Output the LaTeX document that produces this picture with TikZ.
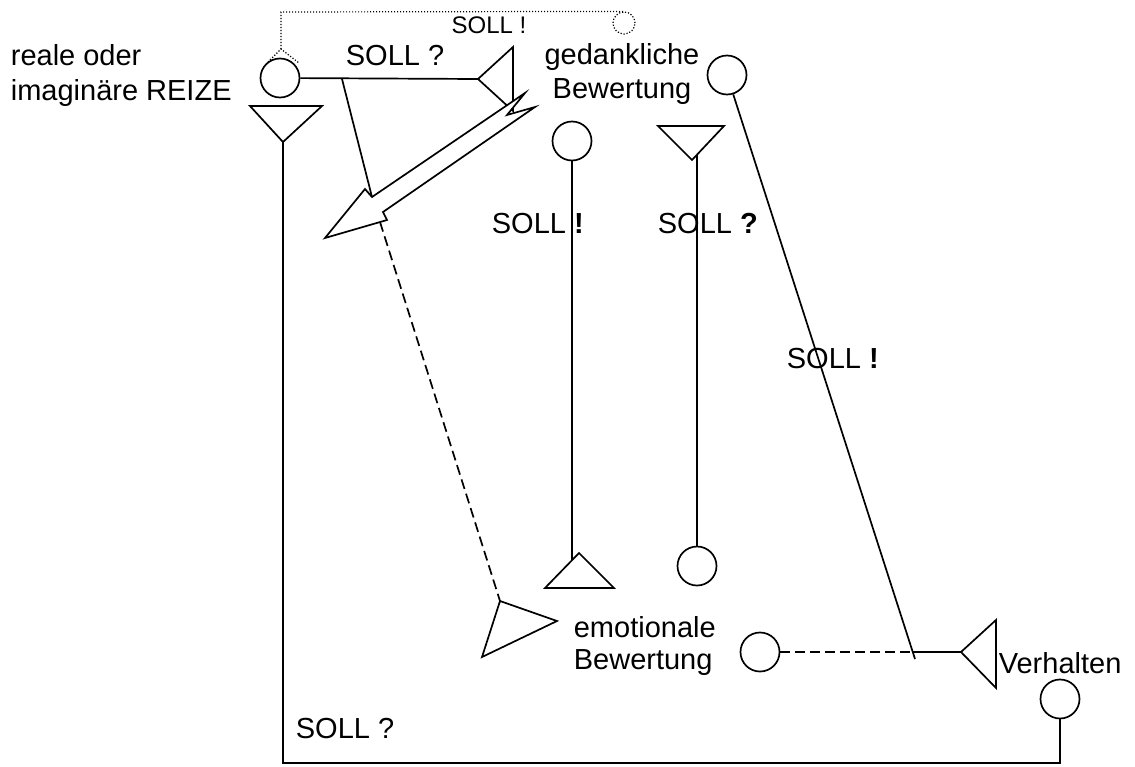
\documentclass[tikz,border=0pt]{standalone}
\usepackage{fontspec}
\setmainfont{Liberation Sans}
\begin{document}
\begin{tikzpicture}[x=0.5pt,y=-0.5pt,line width=0.85pt,
  kreis/.style={circle,draw,minimum size=19.5pt,inner sep=0pt},
  txt/.style={inner sep=0pt,font=\fontsize{14.5}{17}\selectfont},
  gestrichelt/.style={dash pattern=on 5pt off 2.5pt},
  gepunktet/.style={line width=0.6pt,dash pattern=on 0.6pt off 0.9pt}]
\useasboundingbox (0,0) rectangle (1135,766);

% Kreise
\node[kreis] (reiz) at (280,78) {};
\node[kreis] (emoSoll) at (572,141) {};
\node[kreis] (gedanke) at (727,75) {};
\node[kreis] (emoIst) at (697,566) {};
\node[kreis] (emotion) at (760,652) {};
\node[kreis] (verhalten) at (1060,699) {};
\node[kreis,gepunktet,minimum size=11pt] (rueck) at (624,23) {};

% Dreiecke
\draw (250,106) -- (322,106) -- (283,142) -- cycle;
\coordinate (reizSpitze) at (283,142);
\draw (478,79) -- (513,47) -- (513,111) -- cycle;
\coordinate (sollSpitze) at (478,79);
\draw (545,588) -- (614,588) -- (579,553) -- cycle;
\coordinate (emoKante) at (572,560);
\draw (658,126) -- (724,126) -- (692,160) -- cycle;
\coordinate (gedKante) at (697,155);
\draw (500,601) -- (557,621) -- (482,657) -- cycle;
\coordinate (emoSpitze) at (500,601);
\draw (961,652) -- (996,620) -- (996,688) -- cycle;
\coordinate (verhSpitze) at (961,652);

% Linien
\draw (reiz) -- (sollSpitze);
\coordinate (abzweig) at (342,79);
\coordinate (schaft) at (372,197);
\draw (abzweig) -- (schaft);
\draw (emoSoll) -- (emoKante);
\draw (gedKante) -- (emoIst);
\coordinate (knick) at (913,652);
\coordinate (gedEnde) at (915,659);
\draw (gedanke) -- (gedEnde);
\draw[gestrichelt] (emotion) -- (knick);
\draw (knick) -- (verhSpitze);
\draw (verhalten) -- (1060,763) -| (reizSpitze);

% Pfeil
\draw[fill=white,line join=miter] (325,238) -- (365,189) -- (schaft) -- (525,93)
  -- (507,115) -- (535,107) -- (383,212) -- (387,220) -- cycle;
\coordinate (pfeilFuss) at (380,222);
\draw[gestrichelt] (pfeilFuss) -- (emoSpitze);

% gepunktete Rueckfuehrung
\draw[gepunktet] (268,62) -- (281,49) -- (299,63);
\draw[gepunktet] (281,49) -- (281,12) -- (rueck.north);

% Beschriftung
\node[txt,anchor=base west] (reale) at (10,65) {reale oder};
\node[txt,anchor=base west] (imag) at (10,100) {imaginäre REIZE};
\node[txt,anchor=base west] (soll1) at (345,65) {SOLL ?};
\node[inner sep=0pt,font=\fontsize{12}{14}\selectfont,anchor=base] (soll0) at (489,33) {SOLL !};
\node[txt,anchor=base] (ged1) at (622,64) {gedankliche};
\node[txt,anchor=base] (ged2) at (622,98) {Bewertung};
\node[txt,anchor=base west] (soll2) at (491,233) {SOLL \textbf{!}};
\node[txt,anchor=base west] (soll3) at (657,233) {SOLL \textbf{?}};
\node[txt,anchor=base west] (soll4) at (786,368) {SOLL \textbf{!}};
\node[txt,anchor=base west] (emo1) at (573,637) {emotionale};
\node[txt,anchor=base west] (emo2) at (573,669) {Bewertung};
\node[txt,anchor=base west] (verh) at (998,673) {Verhalten};
\node[txt,anchor=base west] (soll5) at (295,738) {SOLL ?};
\end{tikzpicture}
\end{document}
